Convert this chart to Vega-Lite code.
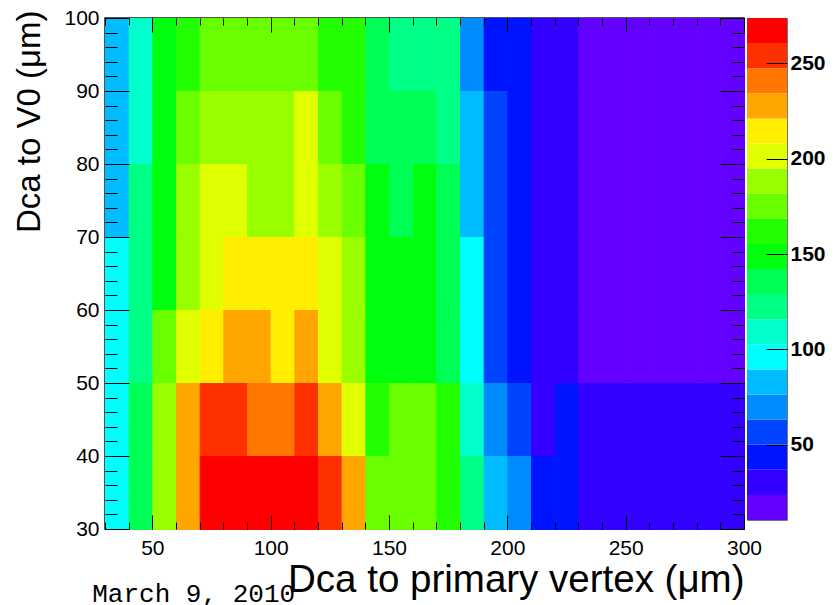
{
  "$schema": "https://vega.github.io/schema/vega-lite/v6.json",
  "background": "white",
  "autosize": {"type": "pad"},
  "padding": {"left": 12, "top": 6, "right": 0, "bottom": 0},
  "title": {"text": "March 9, 2010", "orient": "bottom", "anchor": "start", "font": "Liberation Mono", "fontSize": 26, "fontWeight": "normal", "color": "#000", "baseline": "alphabetic", "dx": 80, "offset": 3},
  "datasets": {
    "cells": [
      {"x":30,"y":90,"z":84},{"x":40,"y":90,"z":110},{"x":50,"y":90,"z":147},{"x":60,"y":90,"z":160},{"x":70,"y":90,"z":173},{"x":80,"y":90,"z":176},{"x":90,"y":90,"z":177},{"x":100,"y":90,"z":174},{"x":110,"y":90,"z":172},{"x":120,"y":90,"z":163},{"x":130,"y":90,"z":161},{"x":140,"y":90,"z":137},{"x":150,"y":90,"z":124},{"x":160,"y":90,"z":121},{"x":170,"y":90,"z":119},{"x":180,"y":90,"z":71},{"x":190,"y":90,"z":45},{"x":200,"y":90,"z":42},{"x":210,"y":90,"z":33},{"x":220,"y":90,"z":29},{"x":230,"y":90,"z":21},{"x":240,"y":90,"z":19},{"x":250,"y":90,"z":17},{"x":260,"y":90,"z":16},{"x":270,"y":90,"z":15},{"x":280,"y":90,"z":13},{"x":290,"y":90,"z":11},
      {"x":30,"y":80,"z":82},{"x":40,"y":80,"z":107},{"x":50,"y":80,"z":150},{"x":60,"y":80,"z":171},{"x":70,"y":80,"z":186},{"x":80,"y":80,"z":189},{"x":90,"y":80,"z":190},{"x":100,"y":80,"z":187},{"x":110,"y":80,"z":199},{"x":120,"y":80,"z":178},{"x":130,"y":80,"z":164},{"x":140,"y":80,"z":139},{"x":150,"y":80,"z":135},{"x":160,"y":80,"z":133},{"x":170,"y":80,"z":125},{"x":180,"y":80,"z":86},{"x":190,"y":80,"z":58},{"x":200,"y":80,"z":46},{"x":210,"y":80,"z":34},{"x":220,"y":80,"z":28},{"x":230,"y":80,"z":22},{"x":240,"y":80,"z":20},{"x":250,"y":80,"z":18},{"x":260,"y":80,"z":17},{"x":270,"y":80,"z":15},{"x":280,"y":80,"z":14},{"x":290,"y":80,"z":13},
      {"x":30,"y":70,"z":80},{"x":40,"y":70,"z":118},{"x":50,"y":70,"z":153},{"x":60,"y":70,"z":185},{"x":70,"y":70,"z":200},{"x":80,"y":70,"z":203},{"x":90,"y":70,"z":192},{"x":100,"y":70,"z":191},{"x":110,"y":70,"z":198},{"x":120,"y":70,"z":184},{"x":130,"y":70,"z":170},{"x":140,"y":70,"z":146},{"x":150,"y":70,"z":138},{"x":160,"y":70,"z":144},{"x":170,"y":70,"z":132},{"x":180,"y":70,"z":86},{"x":190,"y":70,"z":60},{"x":200,"y":70,"z":48},{"x":210,"y":70,"z":35},{"x":220,"y":70,"z":31},{"x":230,"y":70,"z":23},{"x":240,"y":70,"z":21},{"x":250,"y":70,"z":19},{"x":260,"y":70,"z":17},{"x":270,"y":70,"z":16},{"x":280,"y":70,"z":15},{"x":290,"y":70,"z":14},
      {"x":30,"y":60,"z":94},{"x":40,"y":60,"z":120},{"x":50,"y":60,"z":152},{"x":60,"y":60,"z":187},{"x":70,"y":60,"z":205},{"x":80,"y":60,"z":212},{"x":90,"y":60,"z":216},{"x":100,"y":60,"z":218},{"x":110,"y":60,"z":211},{"x":120,"y":60,"z":204},{"x":130,"y":60,"z":190},{"x":140,"y":60,"z":151},{"x":150,"y":60,"z":148},{"x":160,"y":60,"z":145},{"x":170,"y":60,"z":140},{"x":180,"y":60,"z":99},{"x":190,"y":60,"z":61},{"x":200,"y":60,"z":47},{"x":210,"y":60,"z":35},{"x":220,"y":60,"z":32},{"x":230,"y":60,"z":23},{"x":240,"y":60,"z":22},{"x":250,"y":60,"z":20},{"x":260,"y":60,"z":18},{"x":270,"y":60,"z":17},{"x":280,"y":60,"z":16},{"x":290,"y":60,"z":15},
      {"x":30,"y":50,"z":97},{"x":40,"y":50,"z":126},{"x":50,"y":50,"z":178},{"x":60,"y":50,"z":203},{"x":70,"y":50,"z":216},{"x":80,"y":50,"z":226},{"x":90,"y":50,"z":230},{"x":100,"y":50,"z":214},{"x":110,"y":50,"z":225},{"x":120,"y":50,"z":202},{"x":130,"y":50,"z":190},{"x":140,"y":50,"z":151},{"x":150,"y":50,"z":150},{"x":160,"y":50,"z":146},{"x":170,"y":50,"z":138},{"x":180,"y":50,"z":98},{"x":190,"y":50,"z":59},{"x":200,"y":50,"z":46},{"x":210,"y":50,"z":34},{"x":220,"y":50,"z":33},{"x":230,"y":50,"z":23},{"x":240,"y":50,"z":22},{"x":250,"y":50,"z":21},{"x":260,"y":50,"z":19},{"x":270,"y":50,"z":18},{"x":280,"y":50,"z":17},{"x":290,"y":50,"z":16},
      {"x":30,"y":40,"z":99},{"x":40,"y":40,"z":137},{"x":50,"y":40,"z":191},{"x":60,"y":40,"z":231},{"x":70,"y":40,"z":256},{"x":80,"y":40,"z":258},{"x":90,"y":40,"z":244},{"x":100,"y":40,"z":239},{"x":110,"y":40,"z":252},{"x":120,"y":40,"z":229},{"x":130,"y":40,"z":206},{"x":140,"y":40,"z":166},{"x":150,"y":40,"z":180},{"x":160,"y":40,"z":176},{"x":170,"y":40,"z":158},{"x":180,"y":40,"z":112},{"x":190,"y":40,"z":73},{"x":200,"y":40,"z":58},{"x":210,"y":40,"z":35},{"x":220,"y":40,"z":41},{"x":230,"y":40,"z":34},{"x":240,"y":40,"z":33},{"x":250,"y":40,"z":32},{"x":260,"y":40,"z":31},{"x":270,"y":40,"z":30},{"x":280,"y":40,"z":28},{"x":290,"y":40,"z":27},
      {"x":30,"y":30,"z":99},{"x":40,"y":30,"z":138},{"x":50,"y":30,"z":193},{"x":60,"y":30,"z":230},{"x":70,"y":30,"z":268},{"x":80,"y":30,"z":273},{"x":90,"y":30,"z":271},{"x":100,"y":30,"z":266},{"x":110,"y":30,"z":263},{"x":120,"y":30,"z":257},{"x":130,"y":30,"z":229},{"x":140,"y":30,"z":178},{"x":150,"y":30,"z":177},{"x":160,"y":30,"z":173},{"x":170,"y":30,"z":165},{"x":180,"y":30,"z":124},{"x":190,"y":30,"z":85},{"x":200,"y":30,"z":72},{"x":210,"y":30,"z":46},{"x":220,"y":30,"z":45},{"x":230,"y":30,"z":35},{"x":240,"y":30,"z":34},{"x":250,"y":30,"z":33},{"x":260,"y":30,"z":32},{"x":270,"y":30,"z":31},{"x":280,"y":30,"z":30},{"x":290,"y":30,"z":29}
    ],
    "palette": [
      {"lo":10.70,"hi":23.85,"z":17.27},{"lo":23.85,"hi":36.99,"z":30.42},{"lo":36.99,"hi":50.13,"z":43.56},{"lo":50.13,"hi":63.28,"z":56.71},{"lo":63.28,"hi":76.42,"z":69.85},
      {"lo":76.42,"hi":89.57,"z":83.00},{"lo":89.57,"hi":102.71,"z":96.14},{"lo":102.71,"hi":115.86,"z":109.28},{"lo":115.86,"hi":129.00,"z":122.43},{"lo":129.00,"hi":142.15,"z":135.57},
      {"lo":142.15,"hi":155.29,"z":148.72},{"lo":155.29,"hi":168.44,"z":161.86},{"lo":168.44,"hi":181.58,"z":175.01},{"lo":181.58,"hi":194.73,"z":188.15},{"lo":194.73,"hi":207.87,"z":201.30},
      {"lo":207.87,"hi":221.02,"z":214.44},{"lo":221.02,"hi":234.16,"z":227.59},{"lo":234.16,"hi":247.31,"z":240.73},{"lo":247.31,"hi":260.45,"z":253.88},{"lo":260.45,"hi":273.60,"z":267.02}
    ]
  },
  "spacing": 3,
  "bounds": "flush",
  "hconcat": [
    {
      "width": 639,
      "height": 511,
      "data": {"name": "cells"},
      "view": {"stroke": "#1a1a1a", "strokeWidth": 1.5},
      "resolve": {"axis": {"x": "independent", "y": "independent"}},
      "layer": [
        {
          "mark": {"type": "rect", "binSpacing": 0, "strokeWidth": 1},
          "encoding": {
            "x": {"field": "x", "type": "quantitative", "bin": {"binned": true, "step": 10},
              "scale": {"domain": [30, 300], "nice": false, "zero": false},
              "axis": {"orient": "bottom", "values": [50,100,150,200,250,300], "tickSize": -14, "labelPadding": 22, "format": "d",
                "title": "Dca to primary vertex (μm)", "titleFontSize": 38.5, "titleAnchor": "end", "titleAlign": "right", "titleBaseline": "alphabetic", "titleX": 639, "titleY": 62, "zindex": 1}},
            "y": {"field": "y", "type": "quantitative", "bin": {"binned": true, "step": 10},
              "scale": {"domain": [30, 100], "nice": false, "zero": false},
              "axis": {"orient": "left", "values": [30,40,50,60,70,80,90,100], "tickSize": -24, "labelPadding": 30, "format": "d",
                "title": "Dca to V0 (μm)", "titleFontSize": 33, "titleAngle": -90, "titleAnchor": "end", "titleAlign": "right", "titleBaseline": "alphabetic", "titleX": -66, "titleY": -8, "zindex": 1}},
            "color": {"field": "z", "type": "quantitative",
              "scale": {"type": "quantize", "domain": [10.7, 273.6], "nice": false, "zero": false,
                "range": ["#6300FF","#3300FF","#0014FF","#0044FF","#008BFF","#00BBFF","#00FFFC","#00FFCC","#00FF85","#00FF55","#00FF0E","#22FF00","#69FF00","#99FF00","#E0FF00","#FFEE00","#FFA700","#FF7700","#FF3000","#FF0000"]},
              "legend": null},
            "stroke": {"field": "z", "type": "quantitative",
              "scale": {"type": "quantize", "domain": [10.7, 273.6], "nice": false, "zero": false,
                "range": ["#6300FF","#3300FF","#0014FF","#0044FF","#008BFF","#00BBFF","#00FFFC","#00FFCC","#00FF85","#00FF55","#00FF0E","#22FF00","#69FF00","#99FF00","#E0FF00","#FFEE00","#FFA700","#FF7700","#FF3000","#FF0000"]},
              "legend": null}
          }
        },
        {
          "mark": {"type": "rect", "opacity": 0, "binSpacing": 0},
          "encoding": {
            "x": {"field": "x", "type": "quantitative", "bin": {"binned": true, "step": 10},
              "axis": {"orient": "bottom", "values": [30,40,50,60,70,80,90,100,110,120,130,140,150,160,170,180,190,200,210,220,230,240,250,260,270,280,290,300], "tickSize": -7, "labels": false, "title": null, "zindex": 1}},
            "y": {"field": "y", "type": "quantitative", "bin": {"binned": true, "step": 10},
              "axis": {"orient": "left", "values": [30,32,34,36,38,40,42,44,46,48,50,52,54,56,58,60,62,64,66,68,70,72,74,76,78,80,82,84,86,88,90,92,94,96,98,100], "tickSize": -12, "labels": false, "title": null, "zindex": 1}}
          }
        },
        {
          "mark": {"type": "rect", "opacity": 0, "binSpacing": 0},
          "encoding": {
            "x": {"field": "x", "type": "quantitative", "bin": {"binned": true, "step": 10},
              "axis": {"orient": "top", "values": [50,100,150,200,250,300], "tickSize": -14, "labels": false, "title": null, "zindex": 1}},
            "y": {"field": "y", "type": "quantitative", "bin": {"binned": true, "step": 10},
              "axis": {"orient": "right", "values": [30,40,50,60,70,80,90,100], "tickSize": -24, "labels": false, "title": null, "zindex": 1}}
          }
        },
        {
          "mark": {"type": "rect", "opacity": 0, "binSpacing": 0},
          "encoding": {
            "x": {"field": "x", "type": "quantitative", "bin": {"binned": true, "step": 10},
              "axis": {"orient": "top", "values": [30,40,50,60,70,80,90,100,110,120,130,140,150,160,170,180,190,200,210,220,230,240,250,260,270,280,290,300], "tickSize": -7, "labels": false, "title": null, "zindex": 1}},
            "y": {"field": "y", "type": "quantitative", "bin": {"binned": true, "step": 10},
              "axis": {"orient": "right", "values": [30,32,34,36,38,40,42,44,46,48,50,52,54,56,58,60,62,64,66,68,70,72,74,76,78,80,82,84,86,88,90,92,94,96,98,100], "tickSize": -12, "labels": false, "title": null, "zindex": 1}}
          }
        }
      ]
    },
    {
      "width": 40,
      "height": 502,
      "data": {"name": "palette"},
      "view": {"stroke": "#777", "strokeWidth": 1},
      "mark": {"type": "rect", "strokeWidth": 1},
      "encoding": {
        "y": {"field": "lo", "type": "quantitative",
          "scale": {"domain": [10.7, 273.6], "nice": false, "zero": false},
          "axis": {"orient": "right", "values": [50,100,150,200,250], "tickSize": -21, "labelPadding": 24, "labelFontWeight": "bold", "labelFontSize": 21, "title": null, "format": "d", "zindex": 1}},
        "y2": {"field": "hi"},
        "color": {"field": "z", "type": "quantitative",
          "scale": {"type": "quantize", "domain": [10.7, 273.6], "nice": false, "zero": false,
            "range": ["#6300FF","#3300FF","#0014FF","#0044FF","#008BFF","#00BBFF","#00FFFC","#00FFCC","#00FF85","#00FF55","#00FF0E","#22FF00","#69FF00","#99FF00","#E0FF00","#FFEE00","#FFA700","#FF7700","#FF3000","#FF0000"]},
          "legend": null}
      }
    }
  ],
  "config": {
    "font": "Liberation Sans",
    "view": {"stroke": "#1a1a1a", "strokeWidth": 1.5},
    "axis": {"domain": false, "grid": false, "ticks": true, "tickColor": "#000", "tickWidth": 1, "labelColor": "#000", "labelFont": "Liberation Sans", "labelFontSize": 21, "labelFlush": false, "labelOverlap": false, "titleColor": "#000", "titleFont": "Liberation Sans", "titleFontWeight": "normal"}
  }
}
